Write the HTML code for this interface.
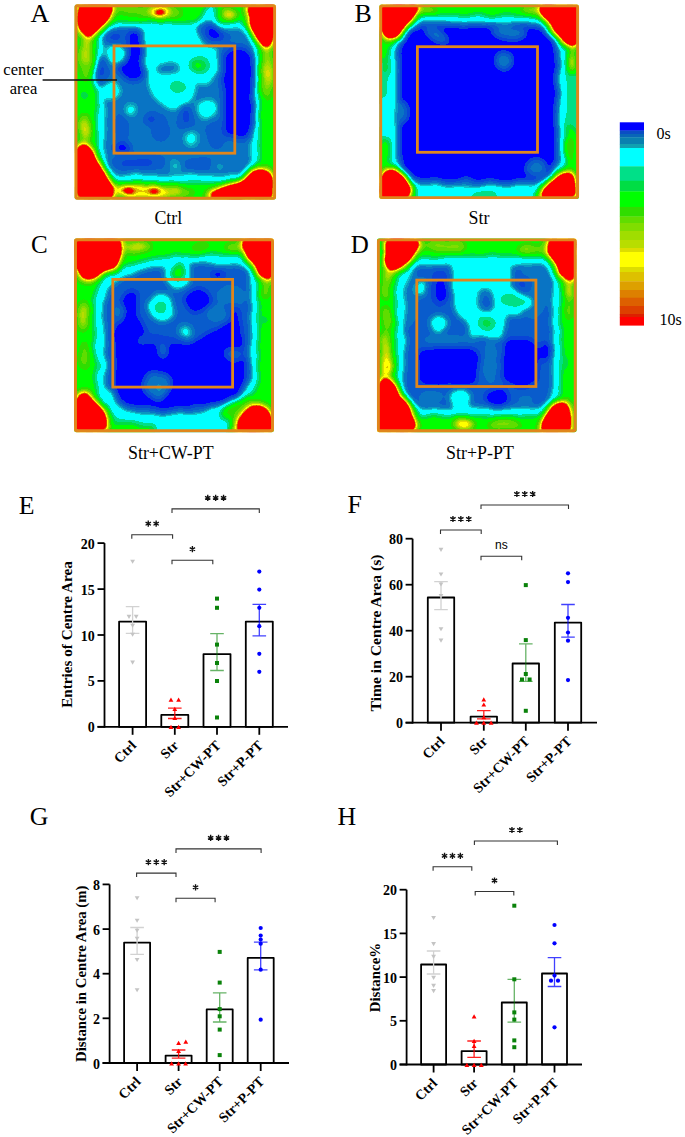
<!DOCTYPE html><html><head><meta charset="utf-8"><style>html,body{margin:0;padding:0;background:#fff;}svg{display:block;}</style></head><body>
<svg width="685" height="1137" viewBox="0 0 685 1137">
<defs>
<filter id="hm" x="-5%" y="-5%" width="110%" height="110%" color-interpolation-filters="sRGB"><feTurbulence type="fractalNoise" baseFrequency="0.07" numOctaves="2" seed="7" result="n"/><feDisplacementMap in="SourceGraphic" in2="n" scale="7" xChannelSelector="R" yChannelSelector="G" result="d"/><feGaussianBlur in="d" stdDeviation="3.2"/><feComponentTransfer><feFuncR type="discrete" tableValues="0.000 0.000 0.000 0.039 0.039 0.039 0.039 0.039 0.039 0.039 0.063 0.000 0.000 0.000 0.000 0.000 0.000 0.000 0.000 0.000 0.000 0.000 0.188 0.188 0.376 0.376 0.502 0.627 0.722 0.867 1.000 1.000 0.867 0.867 0.867 1.000 1.000 1.000 1.000 1.000 1.000 1.000 1.000 1.000 1.000 1.000 1.000 1.000"/><feFuncG type="discrete" tableValues="0.000 0.000 0.000 0.267 0.267 0.361 0.361 0.455 0.455 0.596 0.753 1.000 1.000 1.000 1.000 0.878 0.878 0.867 0.867 1.000 1.000 1.000 0.867 0.867 0.867 0.867 0.867 0.867 0.867 0.867 1.000 1.000 0.753 0.502 0.251 0.000 0.000 0.000 0.000 0.000 0.000 0.000 0.000 0.000 0.000 0.000 0.000 0.000"/><feFuncB type="discrete" tableValues="1.000 1.000 1.000 0.847 0.847 0.800 0.800 0.769 0.769 0.753 0.784 1.000 1.000 1.000 1.000 0.533 0.533 0.267 0.267 0.000 0.000 0.000 0.000 0.000 0.000 0.000 0.000 0.000 0.000 0.000 0.000 0.000 0.000 0.000 0.000 0.000 0.000 0.000 0.000 0.000 0.000 0.000 0.000 0.000 0.000 0.000 0.000 0.000"/><feFuncA type="linear" slope="0" intercept="1"/></feComponentTransfer></filter>
<clipPath id="cp0"><rect x="74.6" y="4.4" width="201.4" height="195.2" rx="2"/></clipPath>
<clipPath id="cp1"><rect x="379.3" y="4.5" width="199.7" height="194.5" rx="2"/></clipPath>
<clipPath id="cp2"><rect x="74.1" y="238.4" width="199.8" height="193.8" rx="2"/></clipPath>
<clipPath id="cp3"><rect x="377" y="238.5" width="199.6" height="193.7" rx="2"/></clipPath>
</defs>
<rect width="685" height="1137" fill="#fff"/>
<g clip-path="url(#cp0)"><g filter="url(#hm)">
<rect x="62.6" y="-7.6" width="225.4" height="219.2" fill="#6d6d6d"/>
<ellipse cx="130" cy="10" rx="18" ry="5" fill="#858585"/>
<ellipse cx="86" cy="62" rx="8" ry="20" fill="#858585"/>
<ellipse cx="86" cy="52" rx="5" ry="13" fill="#979797"/>
<ellipse cx="87" cy="40" rx="4" ry="8" fill="#a5a5a5"/>
<ellipse cx="86" cy="128" rx="6" ry="14" fill="#929292"/>
<ellipse cx="84" cy="130" rx="3" ry="8" fill="#a5a5a5"/>
<ellipse cx="84" cy="95" rx="5" ry="7" fill="#606060"/>
<ellipse cx="160" cy="12" rx="22" ry="9" fill="#858585"/>
<ellipse cx="160" cy="12.5" rx="11" ry="5" fill="#adadad"/>
<ellipse cx="160" cy="12.5" rx="7" ry="3.5" fill="#b2b2b2"/>
<ellipse cx="160" cy="12.5" rx="4" ry="2" fill="#ffffff"/>
<ellipse cx="230" cy="14.5" rx="9" ry="6" fill="#a5a5a5"/>
<ellipse cx="267" cy="75" rx="7" ry="28" fill="#858585"/>
<ellipse cx="268" cy="70" rx="4" ry="22" fill="#979797"/>
<ellipse cx="268" cy="75" rx="3" ry="6" fill="#a5a5a5"/>
<ellipse cx="150" cy="192" rx="45" ry="9" fill="#858585"/>
<ellipse cx="140" cy="191" rx="30" ry="6" fill="#a5a5a5"/>
<ellipse cx="142" cy="192" rx="30" ry="5" fill="#adadad"/>
<ellipse cx="127" cy="191" rx="10" ry="4.5" fill="#b2b2b2"/>
<ellipse cx="155" cy="193" rx="9" ry="4" fill="#b2b2b2"/>
<ellipse cx="127" cy="191" rx="4.5" ry="2.2" fill="#ffffff"/>
<ellipse cx="154" cy="193" rx="3.5" ry="1.8" fill="#ffffff"/>
<ellipse cx="176" cy="191" rx="5" ry="4" fill="#a5a5a5"/>
<ellipse cx="190" cy="181" rx="14" ry="4" fill="#555555"/>
<rect x="97" y="22" width="162" height="160" rx="22" fill="#454545"/>
<path d="M200 22 L210 3 L214 3 L216 24 Z" fill="#454545"/>
<rect x="104" y="29" width="148" height="146" rx="16" fill="#2a2a2a"/>
<ellipse cx="126" cy="37" rx="24" ry="10" fill="#202020"/>
<ellipse cx="115" cy="37" rx="6" ry="5" fill="#151515"/>
<ellipse cx="101" cy="72" rx="8" ry="16" fill="#202020"/>
<ellipse cx="101" cy="70" rx="4" ry="8" fill="#151515"/>
<ellipse cx="140" cy="162" rx="30" ry="8" fill="#202020"/>
<ellipse cx="138" cy="163" rx="18" ry="5" fill="#151515"/>
<ellipse cx="200" cy="165" rx="22" ry="7" fill="#202020"/>
<ellipse cx="122" cy="128" rx="7" ry="18" fill="#202020"/>
<ellipse cx="160" cy="128" rx="10" ry="14" fill="#202020"/>
<ellipse cx="150" cy="118" rx="6" ry="7" fill="#151515"/>
<ellipse cx="186" cy="120" rx="9" ry="16" fill="#202020"/>
<ellipse cx="186" cy="115" rx="5" ry="10" fill="#151515"/>
<ellipse cx="215" cy="135" rx="9" ry="16" fill="#202020"/>
<path d="M143 22 L204 22 L217 38 L219 72 L207 84 L194 84 L193 98 L182 106 L168 110 L156 100 L150 86 L145 64 L143 40 Z" fill="#454545"/>
<ellipse cx="168" cy="68" rx="14" ry="7" fill="#323232"/>
<ellipse cx="166" cy="68" rx="10" ry="4.5" fill="#2a2a2a"/>
<ellipse cx="178" cy="88" rx="10" ry="6.5" fill="#555555"/>
<ellipse cx="178" cy="88" rx="6" ry="3.5" fill="#606060"/>
<ellipse cx="199" cy="65" rx="11" ry="10" fill="#555555"/>
<ellipse cx="199" cy="65" rx="7.5" ry="7" fill="#606060"/>
<ellipse cx="199" cy="65" rx="5" ry="4.5" fill="#6d6d6d"/>
<path d="M129 34 Q135 31 141 35 L142 60 Q146 72 140 79 Q127 81 118 73 Q116 65 123 62 L127 56 Z" fill="#080808"/>
<ellipse cx="213" cy="34" rx="17" ry="11" fill="#202020" transform="rotate(20 213 34)"/>
<ellipse cx="214" cy="33.5" rx="9" ry="6" fill="#080808" transform="rotate(20 214 33.5)"/>
<rect x="222" y="46" width="32" height="94" rx="12" fill="#151515"/>
<rect x="225" y="50" width="27" height="86" rx="10" fill="#080808"/>
<ellipse cx="122" cy="148" rx="9" ry="5.5" fill="#080808"/>
<ellipse cx="117" cy="55" rx="10" ry="10" fill="#454545"/>
<ellipse cx="117" cy="54" rx="4.5" ry="4.5" fill="#555555"/>
<ellipse cx="111" cy="90" rx="10" ry="9" fill="#454545"/>
<ellipse cx="131" cy="110" rx="9" ry="9" fill="#323232"/>
<ellipse cx="131" cy="110" rx="5.5" ry="5.5" fill="#454545"/>
<ellipse cx="138" cy="137" rx="5" ry="5" fill="#323232"/>
<ellipse cx="207" cy="109" rx="13" ry="12" fill="#323232"/>
<ellipse cx="207" cy="108.5" rx="9" ry="8.5" fill="#454545"/>
<ellipse cx="191" cy="138" rx="11" ry="10" fill="#323232"/>
<ellipse cx="191" cy="138" rx="5.5" ry="5.5" fill="#454545"/>
<ellipse cx="175" cy="165" rx="8" ry="9" fill="#323232"/>
<ellipse cx="175" cy="166" rx="3" ry="3" fill="#454545"/>
<ellipse cx="219" cy="166" rx="8" ry="5" fill="#323232"/>
<path d="M78 6 L113 6 Q110 18 98 28 Q92 34 88 36 Q80 30 78 20 Z" fill="none" stroke="#979797" stroke-width="9" stroke-linejoin="round"/>
<path d="M78 6 L113 6 Q110 18 98 28 Q92 34 88 36 Q80 30 78 20 Z" fill="#ffffff"/>
<path d="M248 6 L274 6 L274 32 Q272 44 266 47 Q258 40 252 26 Q248 16 248 6 Z" fill="none" stroke="#979797" stroke-width="9" stroke-linejoin="round"/>
<path d="M248 6 L274 6 L274 32 Q272 44 266 47 Q258 40 252 26 Q248 16 248 6 Z" fill="#ffffff"/>
<path d="M77 150 Q80 143 88 146 Q98 166 108 180 Q114 190 111 198 L77 198 Z" fill="none" stroke="#979797" stroke-width="9" stroke-linejoin="round"/>
<path d="M77 150 Q80 143 88 146 Q98 166 108 180 Q114 190 111 198 L77 198 Z" fill="#ffffff"/>
<path d="M209 198 Q212 190 226 187 Q244 184 254 173 Q262 166 268 172 Q272 180 271 198 Z" fill="none" stroke="#979797" stroke-width="9" stroke-linejoin="round"/>
<path d="M209 198 Q212 190 226 187 Q244 184 254 173 Q262 166 268 172 Q272 180 271 198 Z" fill="#ffffff"/>
</g></g>
<rect x="76" y="5.8" width="198.6" height="192.4" rx="1.5" fill="none" stroke="#e0861c" stroke-width="2.9"/>
<rect x="114" y="45.9" width="120.8" height="107.3" fill="none" stroke="#e0861c" stroke-width="2.8"/>
<g clip-path="url(#cp1)"><g filter="url(#hm)">
<rect x="367.3" y="-7.5" width="223.7" height="218.5" fill="#555555"/>
<rect x="380" y="3" width="198" height="12" rx="4" fill="#6d6d6d"/>
<ellipse cx="386" cy="155" rx="8" ry="20" fill="#6d6d6d"/>
<ellipse cx="568" cy="150" rx="9" ry="25" fill="#6d6d6d"/>
<ellipse cx="570" cy="150" rx="5" ry="14" fill="#858585"/>
<ellipse cx="384" cy="50" rx="8" ry="12" fill="#6d6d6d"/>
<ellipse cx="387" cy="67" rx="5" ry="9" fill="#606060"/>
<ellipse cx="448" cy="193" rx="14" ry="6" fill="#6d6d6d"/>
<ellipse cx="485" cy="192" rx="10" ry="5" fill="#606060"/>
<ellipse cx="428" cy="10" rx="10" ry="4" fill="#929292"/>
<ellipse cx="530" cy="10" rx="10" ry="4" fill="#929292"/>
<ellipse cx="572" cy="60" rx="4" ry="13" fill="#a5a5a5"/>
<ellipse cx="573" cy="60" rx="2" ry="6" fill="#adadad"/>
<rect x="390" y="16" width="176" height="176" rx="32" fill="#454545"/>
<ellipse cx="386" cy="118" rx="7" ry="22" fill="#454545"/>
<path d="M395 186 L470 186 L470 199 L395 199 Z" fill="#454545"/>
<path d="M497 186 L540 186 L540 199 L497 199 Z" fill="#454545"/>
<rect x="396" y="21.5" width="164" height="164.5" rx="30" fill="#323232"/>
<rect x="399" y="25" width="158" height="157" rx="28" fill="#080808"/>
<ellipse cx="437" cy="35" rx="13" ry="5" fill="#2a2a2a" transform="rotate(30 437 35)"/>
<ellipse cx="509" cy="33" rx="18" ry="6.5" fill="#2a2a2a" transform="rotate(5 509 33)"/>
<ellipse cx="504.5" cy="60" rx="9" ry="9" fill="#2a2a2a"/>
<ellipse cx="504.5" cy="60" rx="5" ry="5" fill="#323232"/>
<ellipse cx="401" cy="113" rx="7" ry="11" fill="#2a2a2a"/>
<ellipse cx="536" cy="168" rx="11" ry="8" fill="#2a2a2a"/>
<ellipse cx="470" cy="184" rx="14" ry="4" fill="#2a2a2a"/>
<path d="M381 6 L418 6 Q414 16 404 27 Q397 36 391 38 Q382 34 381 24 Z" fill="none" stroke="#979797" stroke-width="9" stroke-linejoin="round"/>
<path d="M381 6 L418 6 Q414 16 404 27 Q397 36 391 38 Q382 34 381 24 Z" fill="#ffffff"/>
<path d="M540 6 L577 6 L577 42 Q574 47 570 45 Q556 32 546 20 Q540 12 540 6 Z" fill="none" stroke="#979797" stroke-width="9" stroke-linejoin="round"/>
<path d="M540 6 L577 6 L577 42 Q574 47 570 45 Q556 32 546 20 Q540 12 540 6 Z" fill="#ffffff"/>
<path d="M381 197 L381 177 Q386 169 394 171 Q404 176 408 186 Q410 194 407 197 Z" fill="none" stroke="#979797" stroke-width="9" stroke-linejoin="round"/>
<path d="M381 197 L381 177 Q386 169 394 171 Q404 176 408 186 Q410 194 407 197 Z" fill="#ffffff"/>
<path d="M540 197 Q543 189 552 181 Q561 172 569 173 Q575 177 575 187 L575 197 Z" fill="none" stroke="#979797" stroke-width="9" stroke-linejoin="round"/>
<path d="M540 197 Q543 189 552 181 Q561 172 569 173 Q575 177 575 187 L575 197 Z" fill="#ffffff"/>
</g></g>
<rect x="380.7" y="5.9" width="196.9" height="191.7" rx="1.5" fill="none" stroke="#e0861c" stroke-width="2.9"/>
<rect x="417.4" y="46.7" width="120.1" height="105.6" fill="none" stroke="#e0861c" stroke-width="2.8"/>
<g clip-path="url(#cp2)"><g filter="url(#hm)">
<rect x="62.1" y="226.4" width="223.8" height="217.8" fill="#6d6d6d"/>
<ellipse cx="137" cy="247" rx="16" ry="6" fill="#929292"/>
<ellipse cx="138" cy="247" rx="7" ry="3.5" fill="#a5a5a5"/>
<ellipse cx="200" cy="247" rx="10" ry="4" fill="#858585"/>
<ellipse cx="234" cy="248" rx="9" ry="5" fill="#8d8d8d"/>
<ellipse cx="83" cy="316" rx="6" ry="16" fill="#929292"/>
<ellipse cx="82" cy="316" rx="2.5" ry="5" fill="#a5a5a5"/>
<ellipse cx="85" cy="355" rx="6" ry="14" fill="#858585"/>
<ellipse cx="265" cy="290" rx="6" ry="10" fill="#858585"/>
<ellipse cx="266" cy="320" rx="4" ry="7" fill="#606060"/>
<ellipse cx="132" cy="422" rx="25" ry="6" fill="#555555"/>
<ellipse cx="125" cy="426" rx="14" ry="4" fill="#6d6d6d"/>
<ellipse cx="240" cy="408" rx="18" ry="12" fill="#7a7a7a"/>
<path d="M94 300 Q96 276 120 268 Q150 256 190 255 L238 255 Q258 258 258 280 L258 380 Q256 395 240 400 L222 408 Q220 422 200 424 L160 424 Q140 420 118 418 Q100 412 96 395 Z" fill="#454545"/>
<path d="M155 418 L230 418 L230 436 L155 436 Z" fill="#454545"/>
<path d="M104 302 Q106 285 126 277 Q152 264 190 264 L238 264 Q251 266 251 284 L251 376 Q249 389 235 392 L219 397 Q213 411 195 413 L155 414 Q126 413 114 402 Q106 394 106 383 Z" fill="#202020"/>
<ellipse cx="110" cy="397" rx="8" ry="8" fill="#454545"/>
<ellipse cx="101" cy="366" rx="3" ry="5" fill="#555555"/>
<ellipse cx="178" cy="274" rx="14" ry="15" fill="#454545"/>
<ellipse cx="178" cy="273" rx="9" ry="10" fill="#555555"/>
<ellipse cx="178" cy="273" rx="5.5" ry="7" fill="#6d6d6d"/>
<path d="M124 292 Q131 288 136 294 L140 320 Q146 330 150 340 L180 345 L200 338 L215 330 L230 320 L236 300 L244 340 L246 378 L240 396 L220 404 L160 410 L125 405 L115 395 L114 330 Z" fill="#080808"/>
<ellipse cx="218" cy="274.5" rx="8" ry="5" fill="#080808"/>
<ellipse cx="198" cy="300" rx="14" ry="12" fill="#080808"/>
<ellipse cx="160" cy="340" rx="24" ry="6" fill="#151515"/>
<ellipse cx="161" cy="308" rx="14" ry="14" fill="#454545"/>
<ellipse cx="161" cy="307" rx="7" ry="7" fill="#555555"/>
<ellipse cx="161" cy="307" rx="4.5" ry="4.5" fill="#606060"/>
<ellipse cx="230" cy="295" rx="14" ry="11" fill="#2a2a2a"/>
<ellipse cx="238" cy="301" rx="5" ry="5" fill="#323232"/>
<ellipse cx="216" cy="314" rx="11" ry="9" fill="#2a2a2a"/>
<ellipse cx="218" cy="314" rx="5" ry="4" fill="#323232"/>
<ellipse cx="119" cy="312" rx="5" ry="10" fill="#2a2a2a"/>
<ellipse cx="185" cy="331" rx="9" ry="8" fill="#323232"/>
<ellipse cx="185" cy="332" rx="5" ry="5" fill="#454545"/>
<ellipse cx="157" cy="386" rx="14" ry="14" fill="#2a2a2a"/>
<ellipse cx="159" cy="388" rx="7" ry="7" fill="#323232"/>
<ellipse cx="234" cy="354" rx="9" ry="8" fill="#202020"/>
<ellipse cx="164" cy="350" rx="4" ry="8" fill="#2a2a2a"/>
<path d="M76 240 L121 240 Q122 256 116 266 Q106 272 98 274 Q90 281 84 276 Q77 268 76 256 Z" fill="none" stroke="#979797" stroke-width="9" stroke-linejoin="round"/>
<path d="M76 240 L121 240 Q122 256 116 266 Q106 272 98 274 Q90 281 84 276 Q77 268 76 256 Z" fill="#ffffff"/>
<path d="M243 240 L273 240 L273 268 Q271 280 266 280 Q258 270 250 258 Q244 250 243 240 Z" fill="none" stroke="#979797" stroke-width="9" stroke-linejoin="round"/>
<path d="M243 240 L273 240 L273 268 Q271 280 266 280 Q258 270 250 258 Q244 250 243 240 Z" fill="#ffffff"/>
<path d="M76 430 L76 402 Q80 392 87 394 Q96 402 104 414 Q108 424 105 430 Z" fill="none" stroke="#979797" stroke-width="9" stroke-linejoin="round"/>
<path d="M76 430 L76 402 Q80 392 87 394 Q96 402 104 414 Q108 424 105 430 Z" fill="#ffffff"/>
<path d="M237 430 Q238 420 246 412 Q254 405 262 407 Q271 412 271 424 L271 430 Z" fill="none" stroke="#979797" stroke-width="9" stroke-linejoin="round"/>
<path d="M237 430 Q238 420 246 412 Q254 405 262 407 Q271 412 271 424 L271 430 Z" fill="#ffffff"/>
</g></g>
<rect x="75.5" y="239.8" width="197" height="191" rx="1.5" fill="none" stroke="#e0861c" stroke-width="2.9"/>
<rect x="112.8" y="279.4" width="119.8" height="107.7" fill="none" stroke="#e0861c" stroke-width="2.8"/>
<g clip-path="url(#cp3)"><g filter="url(#hm)">
<rect x="365" y="226.5" width="223.6" height="217.7" fill="#6d6d6d"/>
<ellipse cx="445" cy="246" rx="22" ry="6" fill="#8d8d8d"/>
<ellipse cx="530" cy="249" rx="14" ry="5" fill="#929292"/>
<ellipse cx="540" cy="250" rx="10" ry="5" fill="#858585"/>
<ellipse cx="387" cy="278" rx="4" ry="9" fill="#a5a5a5"/>
<ellipse cx="386" cy="290" rx="4" ry="10" fill="#979797"/>
<ellipse cx="387" cy="318" rx="5" ry="12" fill="#929292"/>
<ellipse cx="386" cy="345" rx="5" ry="14" fill="#979797"/>
<ellipse cx="386" cy="362" rx="5.5" ry="17" fill="#a5a5a5"/>
<ellipse cx="386" cy="369" rx="4" ry="9" fill="#b2b2b2"/>
<ellipse cx="386" cy="373" rx="2.5" ry="5" fill="#b7b7b7"/>
<ellipse cx="570" cy="290" rx="4" ry="10" fill="#a5a5a5"/>
<ellipse cx="569" cy="310" rx="4" ry="12" fill="#858585"/>
<ellipse cx="567" cy="364" rx="4" ry="8" fill="#606060"/>
<ellipse cx="505" cy="424" rx="18" ry="5" fill="#929292"/>
<ellipse cx="464" cy="424" rx="11" ry="5.5" fill="#a5a5a5"/>
<ellipse cx="464" cy="425" rx="6" ry="3.5" fill="#b2b2b2"/>
<ellipse cx="378.5" cy="255" rx="2.5" ry="14" fill="#454545"/>
<ellipse cx="400" cy="258" rx="10" ry="6" fill="#555555"/>
<path d="M396 290 Q396 262 418 258 L440 256 L540 256 Q560 258 561 280 L561 392 Q560 414 540 416 L420 416 Q397 414 396 392 Z" fill="#454545"/>
<path d="M405 292 Q406 268 424 265 L540 265 Q552 268 552 284 L552 392 Q550 407 535 408 L422 408 Q406 406 405 392 Z" fill="#202020"/>
<path d="M452 256 L546 256 L546 263 L512 264 L510 289 L532 289 L537 296 L535 314 L506 316 L503 338 L470 338 L466 322 L455 312 L451 290 Z" fill="#454545"/>
<ellipse cx="412" cy="300" rx="6" ry="30" fill="#2a2a2a"/>
<ellipse cx="440" cy="287" rx="9" ry="21" fill="#151515"/>
<ellipse cx="441" cy="292" rx="5" ry="12" fill="#080808"/>
<ellipse cx="421.5" cy="288.5" rx="5.5" ry="8" fill="#454545"/>
<ellipse cx="438.5" cy="323.5" rx="9" ry="9" fill="#454545"/>
<ellipse cx="532" cy="292" rx="16" ry="28" fill="#2a2a2a"/>
<ellipse cx="523" cy="285" rx="9" ry="8" fill="#202020"/>
<ellipse cx="522" cy="285" rx="4.5" ry="4" fill="#151515"/>
<ellipse cx="486" cy="300" rx="11" ry="12.5" fill="#323232"/>
<ellipse cx="486" cy="300" rx="8" ry="9.5" fill="#2a2a2a"/>
<ellipse cx="486" cy="301" rx="5" ry="6.5" fill="#202020"/>
<ellipse cx="487" cy="302" rx="2.5" ry="3.5" fill="#151515"/>
<ellipse cx="515" cy="301" rx="17" ry="7.5" fill="#555555" transform="rotate(12 515 301)"/>
<ellipse cx="507" cy="301" rx="6" ry="3.5" fill="#606060"/>
<ellipse cx="486.5" cy="324" rx="9.5" ry="8.5" fill="#555555"/>
<ellipse cx="486.5" cy="324" rx="5" ry="5" fill="#606060"/>
<ellipse cx="450" cy="340" rx="30" ry="6" fill="#2a2a2a"/>
<rect x="418" y="348" width="61" height="38" rx="10" fill="#080808"/>
<rect x="502" y="338" width="36" height="48" rx="10" fill="#080808"/>
<ellipse cx="490" cy="362" rx="8" ry="22" fill="#2a2a2a"/>
<ellipse cx="545" cy="352" rx="6" ry="10" fill="#080808"/>
<ellipse cx="497" cy="398" rx="12" ry="10" fill="#080808"/>
<ellipse cx="432" cy="397" rx="12" ry="7" fill="#2a2a2a"/>
<ellipse cx="460" cy="399" rx="11" ry="11" fill="#454545"/>
<ellipse cx="525" cy="400" rx="10" ry="6" fill="#2a2a2a"/>
<path d="M387 240 L417 240 Q418 252 408 260 Q398 268 392 271 Q386 266 386 254 Z" fill="none" stroke="#979797" stroke-width="9" stroke-linejoin="round"/>
<path d="M387 240 L417 240 Q418 252 408 260 Q398 268 392 271 Q386 266 386 254 Z" fill="#ffffff"/>
<path d="M548 240 L575 240 L575 268 Q572 280 568 280 Q560 272 554 262 Q548 252 548 240 Z" fill="none" stroke="#979797" stroke-width="9" stroke-linejoin="round"/>
<path d="M548 240 L575 240 L575 268 Q572 280 568 280 Q560 272 554 262 Q548 252 548 240 Z" fill="#ffffff"/>
<path d="M378 430 L378 392 Q381 378 386 378 Q392 384 398 396 Q408 410 414 418 Q416 426 413 430 Z" fill="none" stroke="#979797" stroke-width="9" stroke-linejoin="round"/>
<path d="M378 430 L378 392 Q381 378 386 378 Q392 384 398 396 Q408 410 414 418 Q416 426 413 430 Z" fill="#ffffff"/>
<path d="M542 430 Q543 420 550 412 Q556 403 563 403 Q570 408 570 418 L570 430 Z" fill="none" stroke="#979797" stroke-width="9" stroke-linejoin="round"/>
<path d="M542 430 Q543 420 550 412 Q556 403 563 403 Q570 408 570 418 L570 430 Z" fill="#ffffff"/>
</g></g>
<rect x="378.4" y="239.9" width="196.8" height="190.9" rx="1.5" fill="none" stroke="#e0861c" stroke-width="2.9"/>
<rect x="416.8" y="280.1" width="119.1" height="106.4" fill="none" stroke="#e0861c" stroke-width="2.8"/>
<text x="168.3" y="223.6" text-anchor="middle" font-family='"Liberation Serif", serif' font-size="17.9">Ctrl</text>
<text x="479" y="223.6" text-anchor="middle" font-family='"Liberation Serif", serif' font-size="17.9">Str</text>
<text x="170.8" y="459" text-anchor="middle" font-family='"Liberation Serif", serif' font-size="17.9">Str+CW-PT</text>
<text x="480" y="459" text-anchor="middle" font-family='"Liberation Serif", serif' font-size="17.9">Str+P-PT</text>
<text x="23.5" y="74.8" text-anchor="middle" font-family='"Liberation Serif", serif' font-size="16.5">center</text>
<text x="23.5" y="94" text-anchor="middle" font-family='"Liberation Serif", serif' font-size="16.5">area</text>
<path d="M42.6 80H117" stroke="#111" stroke-width="1.5"/>
<text x="30.6" y="22.2" font-family='"Liberation Serif", serif' font-size="26">A</text>
<text x="354.5" y="22" font-family='"Liberation Serif", serif' font-size="26">B</text>
<text x="31" y="252.5" font-family='"Liberation Serif", serif' font-size="25">C</text>
<text x="350.8" y="252.6" font-family='"Liberation Serif", serif' font-size="25">D</text>
<text x="18.8" y="514.3" font-family='"Liberation Serif", serif' font-size="25.8">E</text>
<text x="347.6" y="512.5" font-family='"Liberation Serif", serif' font-size="25.8">F</text>
<text x="29.8" y="825.3" font-family='"Liberation Serif", serif' font-size="25.8">G</text>
<text x="337.6" y="825" font-family='"Liberation Serif", serif' font-size="25.8">H</text>
<rect x="619.8" y="122.3" width="24.2" height="8.5" fill="#0000ff"/>
<rect x="619.8" y="130.5" width="24.2" height="3.8" fill="#0a4ec4"/>
<rect x="619.8" y="134" width="24.2" height="3.5" fill="#0866b8"/>
<rect x="619.8" y="137.2" width="24.2" height="7.1" fill="#0a80b0"/>
<rect x="619.8" y="144" width="24.2" height="4.3" fill="#10a0b0"/>
<rect x="619.8" y="148" width="24.2" height="18.6" fill="#00ffff"/>
<rect x="619.8" y="166.3" width="24.2" height="14.8" fill="#00e088"/>
<rect x="619.8" y="180.8" width="24.2" height="10.9" fill="#00dd44"/>
<rect x="619.8" y="191.4" width="24.2" height="15.8" fill="#00ff00"/>
<rect x="619.8" y="206.9" width="24.2" height="9.9" fill="#30dd00"/>
<rect x="619.8" y="216.5" width="24.2" height="6.8" fill="#60dd00"/>
<rect x="619.8" y="223" width="24.2" height="8.3" fill="#80dd00"/>
<rect x="619.8" y="231" width="24.2" height="9.3" fill="#a0dd00"/>
<rect x="619.8" y="240" width="24.2" height="8.3" fill="#b8dd00"/>
<rect x="619.8" y="248" width="24.2" height="4.3" fill="#dddd00"/>
<rect x="619.8" y="252" width="24.2" height="15.3" fill="#ffff00"/>
<rect x="619.8" y="267" width="24.2" height="5.3" fill="#dddd00"/>
<rect x="619.8" y="272" width="24.2" height="9.6" fill="#ddc000"/>
<rect x="619.8" y="281.3" width="24.2" height="9" fill="#dda000"/>
<rect x="619.8" y="290" width="24.2" height="8" fill="#dd8000"/>
<rect x="619.8" y="297.7" width="24.2" height="8.6" fill="#dd6000"/>
<rect x="619.8" y="306" width="24.2" height="8.3" fill="#dd4000"/>
<rect x="619.8" y="314" width="24.2" height="3.3" fill="#dd2000"/>
<rect x="619.8" y="317" width="24.2" height="8.6" fill="#ff0000"/>
<text x="656.5" y="138.7" font-family='"Liberation Serif", serif' font-size="16">0s</text>
<text x="659.6" y="324.8" font-family='"Liberation Serif", serif' font-size="16">10s</text>
<rect x="119.1" y="621.6" width="27" height="105.2" fill="#fff" stroke="#000" stroke-width="1.8" stroke-linejoin="round"/>
<rect x="161.3" y="714.9" width="27" height="11.9" fill="#fff" stroke="#000" stroke-width="1.8" stroke-linejoin="round"/>
<rect x="203.5" y="654.1" width="27" height="72.7" fill="#fff" stroke="#000" stroke-width="1.8" stroke-linejoin="round"/>
<rect x="245.8" y="621.6" width="27" height="105.2" fill="#fff" stroke="#000" stroke-width="1.8" stroke-linejoin="round"/>
<path d="M132.6 606.6V633.4M125.8 606.6H139.4M125.8 633.4H139.4" stroke="#d2d2d2" stroke-width="1.3" fill="none"/>
<path d="M174.8 708.1V718.5M168 708.1H181.6M168 718.5H181.6" stroke="rgba(255,0,0,0.88)" stroke-width="1.3" fill="none"/>
<path d="M217 633.7V670.5M210.2 633.7H223.8M210.2 670.5H223.8" stroke="rgba(0,128,0,0.6)" stroke-width="1.3" fill="none"/>
<path d="M259.3 604.3V635.8M252.5 604.3H266.1M252.5 635.8H266.1" stroke="rgba(0,0,255,0.75)" stroke-width="1.3" fill="none"/>
<path d="M104.5 543.1V727.7" stroke="#000" stroke-width="1.8"/>
<path d="M97.5 726.8H288" stroke="#000" stroke-width="1.8"/>
<path d="M97.5 726.8H104.5" stroke="#000" stroke-width="1.8"/>
<text x="94.8" y="732.3" text-anchor="end" font-family='"Liberation Serif", serif' font-weight="bold" font-size="14">0</text>
<path d="M97.5 680.9H104.5" stroke="#000" stroke-width="1.8"/>
<text x="94.8" y="686.4" text-anchor="end" font-family='"Liberation Serif", serif' font-weight="bold" font-size="14">5</text>
<path d="M97.5 635H104.5" stroke="#000" stroke-width="1.8"/>
<text x="94.8" y="640.5" text-anchor="end" font-family='"Liberation Serif", serif' font-weight="bold" font-size="14">10</text>
<path d="M97.5 589.1H104.5" stroke="#000" stroke-width="1.8"/>
<text x="94.8" y="594.6" text-anchor="end" font-family='"Liberation Serif", serif' font-weight="bold" font-size="14">15</text>
<path d="M97.5 543.1H104.5" stroke="#000" stroke-width="1.8"/>
<text x="94.8" y="548.6" text-anchor="end" font-family='"Liberation Serif", serif' font-weight="bold" font-size="14">20</text>
<path d="M132.6 726.8V734.8" stroke="#000" stroke-width="1.8"/>
<path d="M174.8 726.8V734.8" stroke="#000" stroke-width="1.8"/>
<path d="M217 726.8V734.8" stroke="#000" stroke-width="1.8"/>
<path d="M259.3 726.8V734.8" stroke="#000" stroke-width="1.8"/>
<path d="M130.2 559.7L135 559.7L132.6 563.78Z" fill="#c4c4c4"/>
<path d="M126.6 614.8L131.4 614.8L129 618.88Z" fill="#c4c4c4"/>
<path d="M133.8 614.8L138.6 614.8L136.2 618.88Z" fill="#c4c4c4"/>
<path d="M130.2 623.7L135 623.7L132.6 627.78Z" fill="#c4c4c4"/>
<path d="M130.2 632.7L135 632.7L132.6 636.78Z" fill="#c4c4c4"/>
<path d="M130.2 660.6L135 660.6L132.6 664.68Z" fill="#c4c4c4"/>
<path d="M168.6 701.72L173.4 701.72L171 697.52Z" fill="#ff0000"/>
<path d="M176.2 701.72L181 701.72L178.6 697.52Z" fill="#ff0000"/>
<path d="M172.4 710.92L177.2 710.92L174.8 706.72Z" fill="#ff0000"/>
<path d="M172.4 720.02L177.2 720.02L174.8 715.82Z" fill="#ff0000"/>
<path d="M168.6 728.92L173.4 728.92L171 724.72Z" fill="#ff0000"/>
<path d="M176.2 728.92L181 728.92L178.6 724.72Z" fill="#ff0000"/>
<rect x="215" y="596.6" width="4" height="4" fill="#0a820a"/>
<rect x="215" y="605.8" width="4" height="4" fill="#0a820a"/>
<rect x="215" y="642.6" width="4" height="4" fill="#0a820a"/>
<rect x="215" y="661" width="4" height="4" fill="#0a820a"/>
<rect x="215" y="679" width="4" height="4" fill="#0a820a"/>
<rect x="215" y="715.5" width="4" height="4" fill="#0a820a"/>
<circle cx="259.3" cy="571.6" r="2.1" fill="#0000ff"/>
<circle cx="259.3" cy="589.6" r="2.1" fill="#0000ff"/>
<circle cx="259.3" cy="607.8" r="2.1" fill="#0000ff"/>
<circle cx="259.3" cy="626.2" r="2.1" fill="#0000ff"/>
<circle cx="259.3" cy="653.8" r="2.1" fill="#0000ff"/>
<circle cx="259.3" cy="671.8" r="2.1" fill="#0000ff"/>
<path d="M131.8 538.7V534.7H172.6V538.7" stroke="#333" stroke-width="1.1" fill="none"/>
<path d="M148.25 520.6L148.25 526.8M145.57 522.15L150.93 525.25M150.93 522.15L145.57 525.25M156.15 520.6L156.15 526.8M153.47 522.15L158.83 525.25M158.83 522.15L153.47 525.25" stroke="#111" stroke-width="1.35" fill="none"/>
<path d="M172 564.2V560.2H212.8V564.2" stroke="#333" stroke-width="1.1" fill="none"/>
<path d="M192.4 546.1L192.4 552.3M189.72 547.65L195.08 550.75M195.08 547.65L189.72 550.75" stroke="#111" stroke-width="1.35" fill="none"/>
<path d="M172 512.9V508.9H259.3V512.9" stroke="#333" stroke-width="1.1" fill="none"/>
<path d="M207.75 494.8L207.75 501M205.07 496.35L210.43 499.45M210.43 496.35L205.07 499.45M215.65 494.8L215.65 501M212.97 496.35L218.33 499.45M218.33 496.35L212.97 499.45M223.55 494.8L223.55 501M220.87 496.35L226.23 499.45M226.23 496.35L220.87 499.45" stroke="#111" stroke-width="1.35" fill="none"/>
<text transform="translate(137.1 746.3) rotate(-45)" text-anchor="end" font-family='"Liberation Serif", serif' font-weight="bold" font-size="14">Ctrl</text>
<text transform="translate(179.3 746.3) rotate(-45)" text-anchor="end" font-family='"Liberation Serif", serif' font-weight="bold" font-size="14">Str</text>
<text transform="translate(221.5 746.3) rotate(-45)" text-anchor="end" font-family='"Liberation Serif", serif' font-weight="bold" font-size="14">Str+CW-PT</text>
<text transform="translate(263.8 746.3) rotate(-45)" text-anchor="end" font-family='"Liberation Serif", serif' font-weight="bold" font-size="14">Str+P-PT</text>
<text transform="translate(66.7 634.5) rotate(-90)" text-anchor="middle" dominant-baseline="central" font-family='"Liberation Serif", serif' font-weight="bold" font-size="15.2">Entries of Centre Area</text>
<rect x="427.8" y="597.5" width="26.4" height="125.2" fill="#fff" stroke="#000" stroke-width="1.8" stroke-linejoin="round"/>
<rect x="470.6" y="716.6" width="26.4" height="6.1" fill="#fff" stroke="#000" stroke-width="1.8" stroke-linejoin="round"/>
<rect x="512.6" y="663.5" width="26.4" height="59.2" fill="#fff" stroke="#000" stroke-width="1.8" stroke-linejoin="round"/>
<rect x="554.8" y="622.6" width="26.4" height="100.1" fill="#fff" stroke="#000" stroke-width="1.8" stroke-linejoin="round"/>
<path d="M441 581.7V609.7M434.2 581.7H447.8M434.2 609.7H447.8" stroke="#d2d2d2" stroke-width="1.3" fill="none"/>
<path d="M483.8 710.6V718.8M477 710.6H490.6M477 718.8H490.6" stroke="rgba(255,0,0,0.88)" stroke-width="1.3" fill="none"/>
<path d="M525.8 643.8V681.4M519 643.8H532.6M519 681.4H532.6" stroke="rgba(0,128,0,0.6)" stroke-width="1.3" fill="none"/>
<path d="M568 604.5V637.2M561.2 604.5H574.8M561.2 637.2H574.8" stroke="rgba(0,0,255,0.75)" stroke-width="1.3" fill="none"/>
<path d="M412.6 538.7V723.6" stroke="#000" stroke-width="1.8"/>
<path d="M405.6 722.7H597" stroke="#000" stroke-width="1.8"/>
<path d="M405.6 722.7H412.6" stroke="#000" stroke-width="1.8"/>
<text x="402.9" y="728.2" text-anchor="end" font-family='"Liberation Serif", serif' font-weight="bold" font-size="14">0</text>
<path d="M405.6 676.7H412.6" stroke="#000" stroke-width="1.8"/>
<text x="402.9" y="682.2" text-anchor="end" font-family='"Liberation Serif", serif' font-weight="bold" font-size="14">20</text>
<path d="M405.6 630.7H412.6" stroke="#000" stroke-width="1.8"/>
<text x="402.9" y="636.2" text-anchor="end" font-family='"Liberation Serif", serif' font-weight="bold" font-size="14">40</text>
<path d="M405.6 584.7H412.6" stroke="#000" stroke-width="1.8"/>
<text x="402.9" y="590.2" text-anchor="end" font-family='"Liberation Serif", serif' font-weight="bold" font-size="14">60</text>
<path d="M405.6 538.7H412.6" stroke="#000" stroke-width="1.8"/>
<text x="402.9" y="544.2" text-anchor="end" font-family='"Liberation Serif", serif' font-weight="bold" font-size="14">80</text>
<path d="M441 722.7V730.7" stroke="#000" stroke-width="1.8"/>
<path d="M483.8 722.7V730.7" stroke="#000" stroke-width="1.8"/>
<path d="M525.8 722.7V730.7" stroke="#000" stroke-width="1.8"/>
<path d="M568 722.7V730.7" stroke="#000" stroke-width="1.8"/>
<path d="M438.6 547.8L443.4 547.8L441 551.88Z" fill="#c4c4c4"/>
<path d="M438.6 572.5L443.4 572.5L441 576.58Z" fill="#c4c4c4"/>
<path d="M438.6 582.5L443.4 582.5L441 586.58Z" fill="#c4c4c4"/>
<path d="M438.6 593.9L443.4 593.9L441 597.98Z" fill="#c4c4c4"/>
<path d="M438.6 627.2L443.4 627.2L441 631.28Z" fill="#c4c4c4"/>
<path d="M438.6 638.6L443.4 638.6L441 642.68Z" fill="#c4c4c4"/>
<path d="M481.4 701.42L486.2 701.42L483.8 697.22Z" fill="#ff0000"/>
<path d="M481.4 706.62L486.2 706.62L483.8 702.42Z" fill="#ff0000"/>
<path d="M481.4 719.22L486.2 719.22L483.8 715.02Z" fill="#ff0000"/>
<path d="M474.1 724.72L478.9 724.72L476.5 720.52Z" fill="#ff0000"/>
<path d="M481.4 724.72L486.2 724.72L483.8 720.52Z" fill="#ff0000"/>
<path d="M488.7 724.72L493.5 724.72L491.1 720.52Z" fill="#ff0000"/>
<rect x="523.8" y="583.1" width="4" height="4" fill="#0a820a"/>
<rect x="523.8" y="638.1" width="4" height="4" fill="#0a820a"/>
<rect x="523.8" y="672" width="4" height="4" fill="#0a820a"/>
<rect x="520" y="677.5" width="4" height="4" fill="#0a820a"/>
<rect x="527.6" y="677.5" width="4" height="4" fill="#0a820a"/>
<rect x="523.8" y="708.8" width="4" height="4" fill="#0a820a"/>
<circle cx="568" cy="573.3" r="2.1" fill="#0000ff"/>
<circle cx="568" cy="582.1" r="2.1" fill="#0000ff"/>
<circle cx="568" cy="617.8" r="2.1" fill="#0000ff"/>
<circle cx="568" cy="632.5" r="2.1" fill="#0000ff"/>
<circle cx="568" cy="640.7" r="2.1" fill="#0000ff"/>
<circle cx="568" cy="680.1" r="2.1" fill="#0000ff"/>
<path d="M440.5 534V530H481.2V534" stroke="#333" stroke-width="1.1" fill="none"/>
<path d="M452.95 515.9L452.95 522.1M450.27 517.45L455.63 520.55M455.63 517.45L450.27 520.55M460.85 515.9L460.85 522.1M458.17 517.45L463.53 520.55M463.53 517.45L458.17 520.55M468.75 515.9L468.75 522.1M466.07 517.45L471.43 520.55M471.43 517.45L466.07 520.55" stroke="#111" stroke-width="1.35" fill="none"/>
<path d="M481 560.2V556.2H521.7V560.2" stroke="#333" stroke-width="1.1" fill="none"/>
<text x="501.35" y="548.7" text-anchor="middle" font-family='"Liberation Sans", sans-serif' font-size="12">ns</text>
<path d="M481 509V505H568.5V509" stroke="#333" stroke-width="1.1" fill="none"/>
<path d="M516.85 490.9L516.85 497.1M514.17 492.45L519.53 495.55M519.53 492.45L514.17 495.55M524.75 490.9L524.75 497.1M522.07 492.45L527.43 495.55M527.43 492.45L522.07 495.55M532.65 490.9L532.65 497.1M529.97 492.45L535.33 495.55M535.33 492.45L529.97 495.55" stroke="#111" stroke-width="1.35" fill="none"/>
<text transform="translate(445.5 742.2) rotate(-45)" text-anchor="end" font-family='"Liberation Serif", serif' font-weight="bold" font-size="14">Ctrl</text>
<text transform="translate(488.3 742.2) rotate(-45)" text-anchor="end" font-family='"Liberation Serif", serif' font-weight="bold" font-size="14">Str</text>
<text transform="translate(530.3 742.2) rotate(-45)" text-anchor="end" font-family='"Liberation Serif", serif' font-weight="bold" font-size="14">Str+CW-PT</text>
<text transform="translate(572.5 742.2) rotate(-45)" text-anchor="end" font-family='"Liberation Serif", serif' font-weight="bold" font-size="14">Str+P-PT</text>
<text transform="translate(375.7 633) rotate(-90)" text-anchor="middle" dominant-baseline="central" font-family='"Liberation Serif", serif' font-weight="bold" font-size="15.6">Time in Centre Area (s)</text>
<rect x="124.1" y="942.7" width="26" height="120.3" fill="#fff" stroke="#000" stroke-width="1.8" stroke-linejoin="round"/>
<rect x="165.6" y="1055.6" width="26" height="7.4" fill="#fff" stroke="#000" stroke-width="1.8" stroke-linejoin="round"/>
<rect x="206.7" y="1009.4" width="26" height="53.6" fill="#fff" stroke="#000" stroke-width="1.8" stroke-linejoin="round"/>
<rect x="247.7" y="957.9" width="26" height="105.1" fill="#fff" stroke="#000" stroke-width="1.8" stroke-linejoin="round"/>
<path d="M137.1 927.5V954.4M130.3 927.5H143.9M130.3 954.4H143.9" stroke="#d2d2d2" stroke-width="1.3" fill="none"/>
<path d="M178.6 1050V1058.2M171.8 1050H185.4M171.8 1058.2H185.4" stroke="rgba(255,0,0,0.88)" stroke-width="1.3" fill="none"/>
<path d="M219.7 992.8V1022M212.9 992.8H226.5M212.9 1022H226.5" stroke="rgba(0,128,0,0.6)" stroke-width="1.3" fill="none"/>
<path d="M260.7 942.1V969.9M253.9 942.1H267.5M253.9 969.9H267.5" stroke="rgba(0,0,255,0.75)" stroke-width="1.3" fill="none"/>
<path d="M109.6 884.4V1063.9" stroke="#000" stroke-width="1.8"/>
<path d="M102.6 1063H289" stroke="#000" stroke-width="1.8"/>
<path d="M102.6 1063H109.6" stroke="#000" stroke-width="1.8"/>
<text x="99.9" y="1068.5" text-anchor="end" font-family='"Liberation Serif", serif' font-weight="bold" font-size="14">0</text>
<path d="M102.6 1018.3H109.6" stroke="#000" stroke-width="1.8"/>
<text x="99.9" y="1023.8" text-anchor="end" font-family='"Liberation Serif", serif' font-weight="bold" font-size="14">2</text>
<path d="M102.6 973.7H109.6" stroke="#000" stroke-width="1.8"/>
<text x="99.9" y="979.2" text-anchor="end" font-family='"Liberation Serif", serif' font-weight="bold" font-size="14">4</text>
<path d="M102.6 929.1H109.6" stroke="#000" stroke-width="1.8"/>
<text x="99.9" y="934.6" text-anchor="end" font-family='"Liberation Serif", serif' font-weight="bold" font-size="14">6</text>
<path d="M102.6 884.4H109.6" stroke="#000" stroke-width="1.8"/>
<text x="99.9" y="889.9" text-anchor="end" font-family='"Liberation Serif", serif' font-weight="bold" font-size="14">8</text>
<path d="M137.1 1063V1071" stroke="#000" stroke-width="1.8"/>
<path d="M178.6 1063V1071" stroke="#000" stroke-width="1.8"/>
<path d="M219.7 1063V1071" stroke="#000" stroke-width="1.8"/>
<path d="M260.7 1063V1071" stroke="#000" stroke-width="1.8"/>
<path d="M134.7 896.2L139.5 896.2L137.1 900.28Z" fill="#c4c4c4"/>
<path d="M134.7 918.7L139.5 918.7L137.1 922.78Z" fill="#c4c4c4"/>
<path d="M134.7 928.7L139.5 928.7L137.1 932.78Z" fill="#c4c4c4"/>
<path d="M134.7 936.7L139.5 936.7L137.1 940.78Z" fill="#c4c4c4"/>
<path d="M134.7 957.9L139.5 957.9L137.1 961.98Z" fill="#c4c4c4"/>
<path d="M134.7 988.2L139.5 988.2L137.1 992.28Z" fill="#c4c4c4"/>
<path d="M176.2 1044.92L181 1044.92L178.6 1040.72Z" fill="#ff0000"/>
<path d="M183.4 1043.72L188.2 1043.72L185.8 1039.52Z" fill="#ff0000"/>
<path d="M176.2 1052.92L181 1052.92L178.6 1048.72Z" fill="#ff0000"/>
<path d="M169.2 1065.42L174 1065.42L171.6 1061.22Z" fill="#ff0000"/>
<path d="M176.2 1065.42L181 1065.42L178.6 1061.22Z" fill="#ff0000"/>
<path d="M183.2 1065.42L188 1065.42L185.6 1061.22Z" fill="#ff0000"/>
<rect x="217.7" y="949.9" width="4" height="4" fill="#0a820a"/>
<rect x="217.7" y="980.6" width="4" height="4" fill="#0a820a"/>
<rect x="217.7" y="1007.1" width="4" height="4" fill="#0a820a"/>
<rect x="217.7" y="1014.3" width="4" height="4" fill="#0a820a"/>
<rect x="217.7" y="1027.6" width="4" height="4" fill="#0a820a"/>
<rect x="217.7" y="1053.1" width="4" height="4" fill="#0a820a"/>
<circle cx="260.7" cy="928" r="2.1" fill="#0000ff"/>
<circle cx="260.7" cy="935.6" r="2.1" fill="#0000ff"/>
<circle cx="260.7" cy="939.6" r="2.1" fill="#0000ff"/>
<circle cx="260.7" cy="943.7" r="2.1" fill="#0000ff"/>
<circle cx="260.7" cy="969.7" r="2.1" fill="#0000ff"/>
<circle cx="260.7" cy="1019.7" r="2.1" fill="#0000ff"/>
<path d="M136.6 877.1V873.1H176V877.1" stroke="#333" stroke-width="1.1" fill="none"/>
<path d="M148.4 859L148.4 865.2M145.72 860.55L151.08 863.65M151.08 860.55L145.72 863.65M156.3 859L156.3 865.2M153.62 860.55L158.98 863.65M158.98 860.55L153.62 863.65M164.2 859L164.2 865.2M161.52 860.55L166.88 863.65M166.88 860.55L161.52 863.65" stroke="#111" stroke-width="1.35" fill="none"/>
<path d="M176 902.3V898.3H215.1V902.3" stroke="#333" stroke-width="1.1" fill="none"/>
<path d="M195.55 884.2L195.55 890.4M192.87 885.75L198.23 888.85M198.23 885.75L192.87 888.85" stroke="#111" stroke-width="1.35" fill="none"/>
<path d="M176 852.9V848.9H261.1V852.9" stroke="#333" stroke-width="1.1" fill="none"/>
<path d="M210.65 834.8L210.65 841M207.97 836.35L213.33 839.45M213.33 836.35L207.97 839.45M218.55 834.8L218.55 841M215.87 836.35L221.23 839.45M221.23 836.35L215.87 839.45M226.45 834.8L226.45 841M223.77 836.35L229.13 839.45M229.13 836.35L223.77 839.45" stroke="#111" stroke-width="1.35" fill="none"/>
<text transform="translate(141.6 1082.5) rotate(-45)" text-anchor="end" font-family='"Liberation Serif", serif' font-weight="bold" font-size="14">Ctrl</text>
<text transform="translate(183.1 1082.5) rotate(-45)" text-anchor="end" font-family='"Liberation Serif", serif' font-weight="bold" font-size="14">Str</text>
<text transform="translate(224.2 1082.5) rotate(-45)" text-anchor="end" font-family='"Liberation Serif", serif' font-weight="bold" font-size="14">Str+CW-PT</text>
<text transform="translate(265.2 1082.5) rotate(-45)" text-anchor="end" font-family='"Liberation Serif", serif' font-weight="bold" font-size="14">Str+P-PT</text>
<text transform="translate(81 973.8) rotate(-90)" text-anchor="middle" dominant-baseline="central" font-family='"Liberation Serif", serif' font-weight="bold" font-size="14.75">Distance in Centre Area (m)</text>
<rect x="421.1" y="964.5" width="25" height="100" fill="#fff" stroke="#000" stroke-width="1.8" stroke-linejoin="round"/>
<rect x="461.6" y="1051.1" width="25" height="13.4" fill="#fff" stroke="#000" stroke-width="1.8" stroke-linejoin="round"/>
<rect x="501.8" y="1002.5" width="25" height="62" fill="#fff" stroke="#000" stroke-width="1.8" stroke-linejoin="round"/>
<rect x="542" y="973.5" width="25" height="91" fill="#fff" stroke="#000" stroke-width="1.8" stroke-linejoin="round"/>
<path d="M433.6 951V974M426.8 951H440.4M426.8 974H440.4" stroke="#d2d2d2" stroke-width="1.3" fill="none"/>
<path d="M474.1 1041V1057.4M467.3 1041H480.9M467.3 1057.4H480.9" stroke="rgba(255,0,0,0.88)" stroke-width="1.3" fill="none"/>
<path d="M514.3 979.3V1022.2M507.5 979.3H521.1M507.5 1022.2H521.1" stroke="rgba(0,128,0,0.6)" stroke-width="1.3" fill="none"/>
<path d="M554.5 957.6V986.5M547.7 957.6H561.3M547.7 986.5H561.3" stroke="rgba(0,0,255,0.75)" stroke-width="1.3" fill="none"/>
<path d="M406.6 889.7V1065.4" stroke="#000" stroke-width="1.8"/>
<path d="M399.6 1064.5H582" stroke="#000" stroke-width="1.8"/>
<path d="M399.6 1064.5H406.6" stroke="#000" stroke-width="1.8"/>
<text x="396.9" y="1070" text-anchor="end" font-family='"Liberation Serif", serif' font-weight="bold" font-size="14">0</text>
<path d="M399.6 1020.8H406.6" stroke="#000" stroke-width="1.8"/>
<text x="396.9" y="1026.3" text-anchor="end" font-family='"Liberation Serif", serif' font-weight="bold" font-size="14">5</text>
<path d="M399.6 977.1H406.6" stroke="#000" stroke-width="1.8"/>
<text x="396.9" y="982.6" text-anchor="end" font-family='"Liberation Serif", serif' font-weight="bold" font-size="14">10</text>
<path d="M399.6 933.4H406.6" stroke="#000" stroke-width="1.8"/>
<text x="396.9" y="938.9" text-anchor="end" font-family='"Liberation Serif", serif' font-weight="bold" font-size="14">15</text>
<path d="M399.6 889.7H406.6" stroke="#000" stroke-width="1.8"/>
<text x="396.9" y="895.2" text-anchor="end" font-family='"Liberation Serif", serif' font-weight="bold" font-size="14">20</text>
<path d="M433.6 1064.5V1072.5" stroke="#000" stroke-width="1.8"/>
<path d="M474.1 1064.5V1072.5" stroke="#000" stroke-width="1.8"/>
<path d="M514.3 1064.5V1072.5" stroke="#000" stroke-width="1.8"/>
<path d="M554.5 1064.5V1072.5" stroke="#000" stroke-width="1.8"/>
<path d="M431.2 915.9L436 915.9L433.6 919.98Z" fill="#c4c4c4"/>
<path d="M431.2 942.1L436 942.1L433.6 946.18Z" fill="#c4c4c4"/>
<path d="M431.2 954.8L436 954.8L433.6 958.88Z" fill="#c4c4c4"/>
<path d="M431.2 975.8L436 975.8L433.6 979.88Z" fill="#c4c4c4"/>
<path d="M431.2 983.8L436 983.8L433.6 987.88Z" fill="#c4c4c4"/>
<path d="M431.2 989.1L436 989.1L433.6 993.18Z" fill="#c4c4c4"/>
<path d="M471.7 1018.42L476.5 1018.42L474.1 1014.22Z" fill="#ff0000"/>
<path d="M471.7 1042.92L476.5 1042.92L474.1 1038.72Z" fill="#ff0000"/>
<path d="M471.7 1048.02L476.5 1048.02L474.1 1043.82Z" fill="#ff0000"/>
<path d="M464.5 1066.92L469.3 1066.92L466.9 1062.72Z" fill="#ff0000"/>
<path d="M471.7 1066.92L476.5 1066.92L474.1 1062.72Z" fill="#ff0000"/>
<path d="M478.9 1066.92L483.7 1066.92L481.3 1062.72Z" fill="#ff0000"/>
<rect x="512.3" y="903.7" width="4" height="4" fill="#0a820a"/>
<rect x="512.3" y="977.3" width="4" height="4" fill="#0a820a"/>
<rect x="512.3" y="1010.4" width="4" height="4" fill="#0a820a"/>
<rect x="512.3" y="1017.6" width="4" height="4" fill="#0a820a"/>
<rect x="512.3" y="1038.4" width="4" height="4" fill="#0a820a"/>
<rect x="512.3" y="1045.2" width="4" height="4" fill="#0a820a"/>
<circle cx="554.5" cy="925" r="2.1" fill="#0000ff"/>
<circle cx="554.5" cy="943.3" r="2.1" fill="#0000ff"/>
<circle cx="554.5" cy="975.6" r="2.1" fill="#0000ff"/>
<circle cx="551" cy="980.7" r="2.1" fill="#0000ff"/>
<circle cx="558" cy="980.7" r="2.1" fill="#0000ff"/>
<circle cx="554.5" cy="1027.3" r="2.1" fill="#0000ff"/>
<path d="M433.1 870.8V866.8H471.8V870.8" stroke="#333" stroke-width="1.1" fill="none"/>
<path d="M444.55 852.7L444.55 858.9M441.87 854.25L447.23 857.35M447.23 854.25L441.87 857.35M452.45 852.7L452.45 858.9M449.77 854.25L455.13 857.35M455.13 854.25L449.77 857.35M460.35 852.7L460.35 858.9M457.67 854.25L463.03 857.35M463.03 854.25L457.67 857.35" stroke="#111" stroke-width="1.35" fill="none"/>
<path d="M475.2 895.5V891.5H513.8V895.5" stroke="#333" stroke-width="1.1" fill="none"/>
<path d="M494.5 877.4L494.5 883.6M491.82 878.95L497.18 882.05M497.18 878.95L491.82 882.05" stroke="#111" stroke-width="1.35" fill="none"/>
<path d="M474.4 845V841H557.4V845" stroke="#333" stroke-width="1.1" fill="none"/>
<path d="M511.95 826.9L511.95 833.1M509.27 828.45L514.63 831.55M514.63 828.45L509.27 831.55M519.85 826.9L519.85 833.1M517.17 828.45L522.53 831.55M522.53 828.45L517.17 831.55" stroke="#111" stroke-width="1.35" fill="none"/>
<text transform="translate(438.1 1084) rotate(-45)" text-anchor="end" font-family='"Liberation Serif", serif' font-weight="bold" font-size="14">Ctrl</text>
<text transform="translate(478.6 1084) rotate(-45)" text-anchor="end" font-family='"Liberation Serif", serif' font-weight="bold" font-size="14">Str</text>
<text transform="translate(518.8 1084) rotate(-45)" text-anchor="end" font-family='"Liberation Serif", serif' font-weight="bold" font-size="14">Str+CW-PT</text>
<text transform="translate(559 1084) rotate(-45)" text-anchor="end" font-family='"Liberation Serif", serif' font-weight="bold" font-size="14">Str+P-PT</text>
<text transform="translate(375.2 977.6) rotate(-90)" text-anchor="middle" dominant-baseline="central" font-family='"Liberation Serif", serif' font-weight="bold" font-size="14.9">Distance%</text>
</svg></body></html>
